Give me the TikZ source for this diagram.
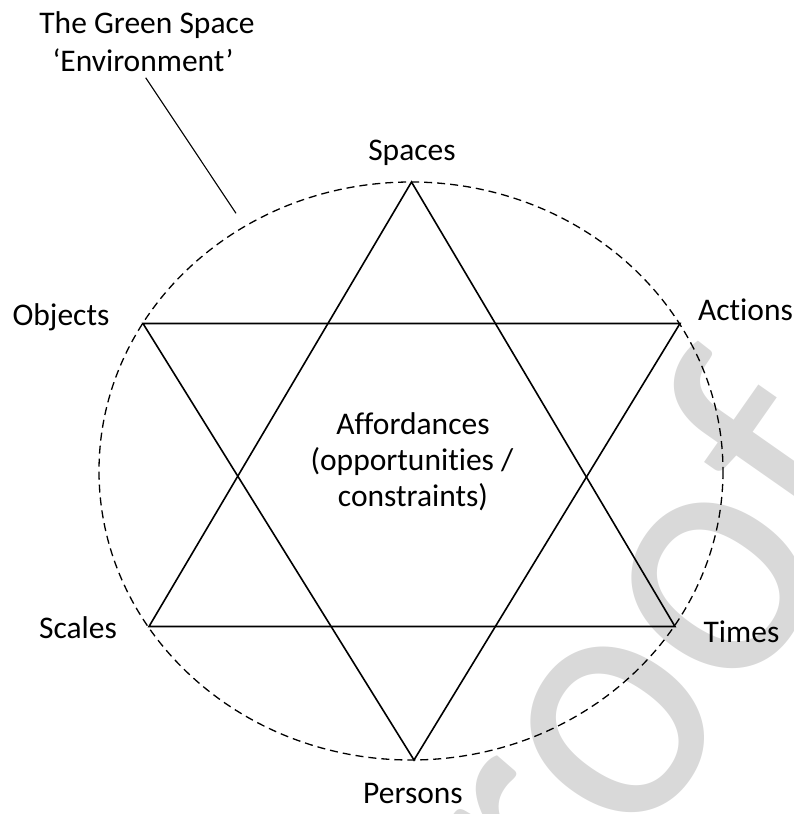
\documentclass[tikz,border=0pt]{standalone}
\usepackage{fontspec}
\setmainfont{Carlito}[Ligatures=NoCommon]
\definecolor{wmgray}{RGB}{217,217,217}
\begin{document}
\begin{tikzpicture}[x=1pt,y=-1pt,
  lbl/.style={anchor=base,inner sep=0pt,font=\fontsize{31.5}{36}\selectfont},
  starline/.style={line width=1.6pt,line join=miter},
  envline/.style={line width=1.3pt,dash pattern=on 8pt off 5pt},
  leader/.style={line width=1.1pt}]
\useasboundingbox (0,0) rectangle (794,814);
% watermark
\node[text=wmgray,rotate=55,inner sep=0pt,font=\fontsize{360}{360}\selectfont] (wm) at (586.5,712) {\scalebox{0.93}[1]{Proof}};
% environment ellipse
\coordinate (c) at (411,471);
\draw[envline] (c) ellipse [x radius=312, y radius=289];
% star vertices
\coordinate (vS) at (411.5,182);
\coordinate (vO) at (143,323.5);
\coordinate (vA) at (680,323.5);
\coordinate (vSc) at (149,626.5);
\coordinate (vT) at (675,626.5);
\coordinate (vP) at (414,760);
\draw[starline] (vS) -- (vSc) -- (vT) -- cycle;
\draw[starline] (vO) -- (vA) -- (vP) -- cycle;
% labels
\node[lbl] (t1) at (147,33) {The Green Space};
\node[lbl] (t2) at (143,71) {‘Environment’};
\node[lbl] (sp) at (412,160) {Spaces};
\node[lbl] (ob) at (61,325) {Objects};
\node[lbl] (ac) at (745.5,320) {Actions};
\node[lbl] (sc) at (78,638) {Scales};
\node[lbl] (ti) at (741.5,642) {Times};
\node[lbl] (pe) at (413,803) {Persons};
\node[lbl] (af1) at (413,434) {Affordances};
\node[lbl] (af2) at (412,470) {(opportunities /};
\node[lbl] (af3) at (413,506) {constraints)};
% leader
\coordinate (l1) at (145.7,77.7);
\coordinate (l2) at (236,213.3);
\draw[leader] (l1) -- (l2);
\end{tikzpicture}
\end{document}
